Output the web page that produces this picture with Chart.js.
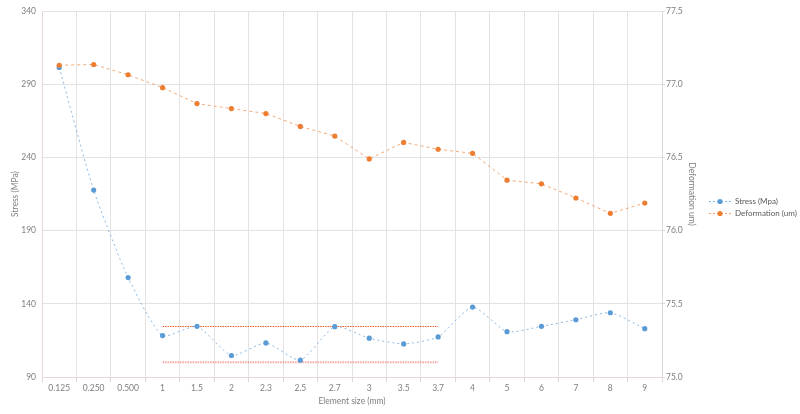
<!DOCTYPE html>
<html>
<head>
<meta charset="utf-8">
<script src="https://cdn.jsdelivr.net/npm/chart.js@4/dist/chart.umd.min.js"></script>
<style>
  html, body { margin: 0; padding: 0; background: #fff; }
  #wrap { width: 800px; height: 414px; }
</style>
</head>
<body>
<div id="wrap"><canvas id="c" width="800" height="414"></canvas></div>
<script>
const categories = ['0.125','0.250','0.500','1','1.5','2','2.3','2.5','2.7','3','3.5','3.7','4','5','6','7','8','9'];
const stress = [301.5, 217.7, 157.9, 118.3, 124.6, 104.7, 113.3, 101.5, 124.4, 116.5, 112.6, 117.4, 137.8, 121.0, 124.6, 129.1, 133.9, 123.0];
const deformation = [77.13, 77.135, 77.065, 76.977, 76.868, 76.834, 76.80, 76.712, 76.646, 76.49, 76.603, 76.556, 76.528, 76.345, 76.32, 76.223, 76.118, 76.189];
const upperBand = [null, null, null, 124.5, 124.5, 124.5, 124.5, 124.5, 124.5, 124.5, 124.5, 124.5, null, null, null, null, null, null];
const lowerBand = [null, null, null, 100, 100, 100, 100, 100, 100, 100, 100, 100, null, null, null, null, null, null];
const stressTicks = [90, 140, 190, 240, 290, 340];
const deformTicks = [75, 75.5, 76, 76.5, 77, 77.5];

const BLUE = '#5B9BD5', ORANGE = '#ED7D31';
const TXT = '#7F7F7F';
const FONT = 'Lato, "Liberation Sans", sans-serif';

function legendIcon(color) {
  const c = document.createElement('canvas');
  c.width = 22; c.height = 7;
  const x = c.getContext('2d');
  x.strokeStyle = color; x.globalAlpha = 0.75; x.lineWidth = 1;
  x.setLineDash([2, 2]);
  x.beginPath(); x.moveTo(0, 3.5); x.lineTo(22, 3.5); x.stroke();
  x.globalAlpha = 1;
  x.fillStyle = color;
  x.beginPath(); x.arc(11, 3.5, 2.6, 0, Math.PI * 2); x.fill();
  return c;
}
const icons = [legendIcon(BLUE), legendIcon(ORANGE)];

const legendShift = {
  id: 'legendShift',
  afterLayout(chart) { if (chart.legend) { chart.legend.bottom -= 8; } }
};

new Chart(document.getElementById('c'), {
  type: 'line',
  plugins: [legendShift],
  data: {
    labels: categories,
    datasets: [
      {
        label: 'Stress (Mpa)', data: stress, yAxisID: 'y', order: 1,
        borderColor: 'rgba(91,155,213,0.7)', borderWidth: 1, borderDash: [2, 3],
        pointBackgroundColor: BLUE, pointBorderColor: BLUE, pointRadius: 2.6, pointBorderWidth: 0,
        tension: 0.2, fill: false
      },
      {
        label: 'Deformation (um)', data: deformation, yAxisID: 'y1', order: 0,
        borderColor: 'rgba(237,125,49,0.65)', borderWidth: 1, borderDash: [3, 3],
        pointBackgroundColor: ORANGE, pointBorderColor: ORANGE, pointRadius: 2.6, pointBorderWidth: 0,
        tension: 0, fill: false
      },
      {
        label: 'upper', data: upperBand, yAxisID: 'y', order: 2,
        borderColor: '#F05A28', borderWidth: 1.2, borderDash: [1.5, 1],
        pointRadius: 0, fill: false, spanGaps: false
      },
      {
        label: 'lower', data: lowerBand, yAxisID: 'y', order: 2,
        borderColor: 'rgba(240,110,100,0.6)', borderWidth: 2, borderDash: [1.5, 1],
        pointRadius: 0, fill: false, spanGaps: false
      }
    ]
  },
  options: {
    responsive: false,
    animation: false,
    layout: { padding: { top: 9, left: 0, right: 0, bottom: 0 } },
    plugins: {
      tooltip: { enabled: false },
      legend: {
        position: 'right',
        maxWidth: 95,
        labels: {
          usePointStyle: true,
          pointStyleWidth: 22,
          padding: 4,
          color: '#595959',
          font: { family: FONT, size: 8 },
          generateLabels: () => [
            { text: 'Stress (Mpa)', pointStyle: icons[0], fontColor: '#595959', lineWidth: 0, strokeStyle: 'transparent', fillStyle: BLUE, datasetIndex: 0 },
            { text: 'Deformation (um)', pointStyle: icons[1], fontColor: '#595959', lineWidth: 0, strokeStyle: 'transparent', fillStyle: ORANGE, datasetIndex: 1 }
          ]
        }
      }
    },
    scales: {
      x: {
        type: 'category',
        offset: true,
        afterFit: s => { s.height = 37; },
        grid: { offset: true, color: '#E3E3E3', lineWidth: 1, tickLength: 5, drawTicks: true, tickColor: '#D9D9D9' },
        border: { color: '#EAD6D6' },
        ticks: { color: TXT, font: { family: FONT, size: 8.5 }, padding: 1, maxRotation: 0, autoSkip: false },
        title: { display: true, text: 'Element size (mm)', color: TXT, font: { family: FONT, size: 8.5 }, padding: { top: 0, bottom: 8 } }
      },
      y: {
        position: 'left',
        min: 90, max: 340,
        afterFit: s => { s.width = 42; },
        afterBuildTicks: s => { s.ticks = stressTicks.map(v => ({ value: v })); },
        grid: { color: '#E3E3E3', lineWidth: 1, drawTicks: false },
        border: { color: '#EAD6D6' },
        ticks: { color: TXT, font: { family: FONT, size: 8.5 }, padding: 6 },
        title: { display: true, text: 'Stress (MPa)', color: TXT, font: { family: FONT, size: 8.5 }, padding: { top: 10, bottom: 0 } }
      },
      y1: {
        position: 'right',
        min: 75, max: 77.5,
        afterFit: s => { s.width = 43; },
        afterBuildTicks: s => { s.ticks = deformTicks.map(v => ({ value: v })); },
        grid: { drawOnChartArea: false, tickLength: 3, drawTicks: true, color: '#D9D9D9' },
        border: { color: '#D9D9D9' },
        ticks: { color: TXT, font: { family: FONT, size: 8.5 }, padding: 1 },
        title: { display: true, text: 'Deformation um)', color: TXT, font: { family: FONT, size: 8.5 }, padding: { top: 8, bottom: 0 } }
      }
    }
  }
});
</script>
</body>
</html>
